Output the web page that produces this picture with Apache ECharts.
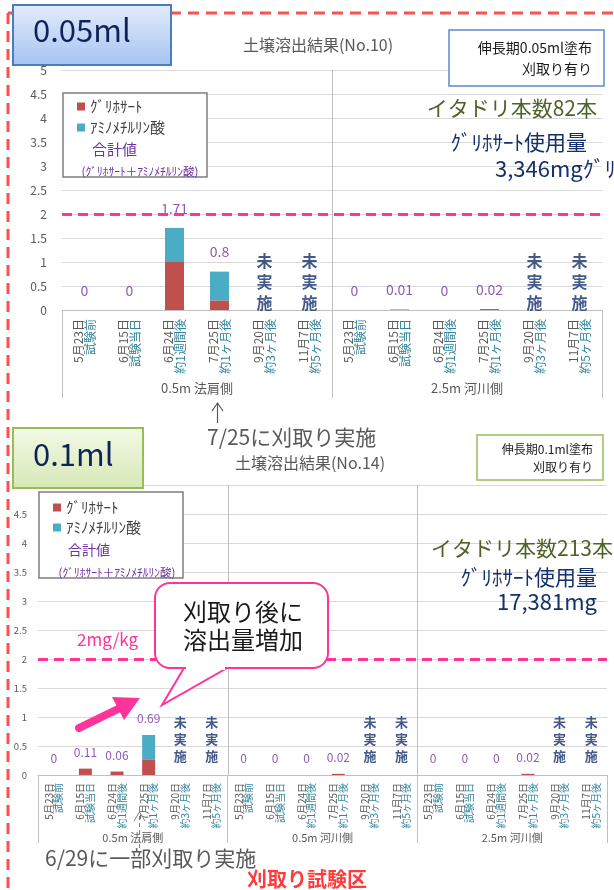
<!DOCTYPE html>
<html>
<head>
<meta charset="utf-8">
<title>土壌溶出結果</title>
<script src="https://cdn.jsdelivr.net/npm/echarts@6/dist/echarts.min.js"></script>
<style>
html, body { margin: 0; padding: 0; background: #fff; }
#chart { width: 614px; height: 890px; }
</style>
</head>
<body>
<div id="chart"></div>
<script>
// categories (same 6 sampling dates in every group)
const dates = ['5月23日', '6月15日', '6月24日', '7月25日', '9月20日', '11月7日'];
const notes = ['試験前', '試験当日', '約1週間後', '約1ヶ月後', '約3ヶ月後', '約5ヶ月後'];
const groups10 = ['0.5m 法肩側', '2.5m 河川側'];
const groups14 = ['0.5m 法肩側', '0.5m 河川側', '2.5m 河川側'];

// No.10 (0.05ml) mg/kg, null = 未実施
const glyphosate10 = [0, 0, 1.0, 0.2, null, null, 0, 0.01, 0, 0.02, null, null];
const ampa10 = [0, 0, 0.71, 0.6, null, null, 0, 0, 0, 0, null, null];

// No.14 (0.1ml)
const glyphosate14 = [0, 0.11, 0.06, 0.27, null, null, 0, 0, 0, 0.02, null, null, 0, 0, 0, 0.02, null, null];
const ampa14 = [0, 0, 0, 0.42, null, null, 0, 0, 0, 0, null, null, 0, 0, 0, 0, null, null];

const yMax = 5;
const yStep = 0.5;
const limitValue = 2; // 2mg/kg

const FONT = "'Noto Sans CJK JP', 'Noto Sans', sans-serif";
const RED = '#C0504D';
const TEAL = '#4BACC6';
const PINK = '#FF3399';
const PURPLE = '#7030A0';
const NAVY = '#13306B';
const GRAY = '#595959';

const grid10 = { left: 62, top: 70, width: 540, height: 240 };
const grid14 = { left: 38, top: 485, width: 569, height: 290 };

function cats(groups) {
    const out = [];
    groups.forEach(g => dates.forEach((d, i) => out.push(g + ' ' + d + ' ' + notes[i])));
    return out;
}
function totals(g, a) {
    return g.map((v, i) => [i, v == null ? '-' : Math.round((v + a[i]) * 100) / 100]);
}
function notDone(g) {
    return g.map((v, i) => [i, v == null ? 0 : '-']);
}

function catAxis(gridIndex, data, fontSize, lineHeight, margin) {
    return {
        type: 'category', gridIndex, data, position: 'bottom',
        axisLine: { lineStyle: { color: '#BFBFBF' } },
        axisTick: { show: false },
        axisLabel: {
            interval: 0, rotate: 90, margin, fontSize, lineHeight,
            formatter: (v, idx) => '{a|' + dates[idx % 6] + '}\n{b|' + notes[idx % 6] + '}',
            rich: {
                a: { color: GRAY, fontSize: fontSize, lineHeight: lineHeight, fontFamily: FONT },
                b: { color: '#31849B', fontSize: fontSize, lineHeight: lineHeight, fontFamily: FONT }
            }
        }
    };
}
function groupAxis(gridIndex, data, tickLen, margin, fontSize) {
    return {
        type: 'category', gridIndex, data, position: 'bottom',
        axisLine: { show: false },
        axisTick: { show: true, length: tickLen, lineStyle: { color: '#BFBFBF' } },
        axisLabel: { margin, fontSize, color: GRAY, fontFamily: FONT },
        splitLine: { show: false }
    };
}
function valAxis(gridIndex, fontSize, margin) {
    return {
        type: 'value', gridIndex, min: 0, max: yMax, interval: yStep,
        axisLine: { show: false }, axisTick: { show: false },
        axisLabel: { fontSize, color: GRAY, margin, fontFamily: FONT },
        splitLine: { lineStyle: { color: '#D9D9D9' } }
    };
}

function chartSeries(axisX, axisY, glyph, ampa, barWidth, valFont, valDist, ndFont, ndLine, ndDist) {
    return [
        {
            name: 'ｸﾞﾘﾎｻｰﾄ', type: 'bar', xAxisIndex: axisX, yAxisIndex: axisY, stack: 's' + axisX,
            data: glyph, barWidth, itemStyle: { color: RED },
            markLine: {
                silent: true, symbol: 'none', label: { show: false },
                lineStyle: { color: PINK, type: [10, 6], width: 3 },
                data: [{ yAxis: limitValue }]
            }
        },
        {
            name: 'ｱﾐﾉﾒﾁﾙﾘﾝ酸', type: 'bar', xAxisIndex: axisX, yAxisIndex: axisY, stack: 's' + axisX,
            data: ampa, barWidth, itemStyle: { color: TEAL }
        },
        {
            name: '合計値', type: 'scatter', xAxisIndex: axisX, yAxisIndex: axisY, silent: true,
            data: totals(glyph, ampa), symbolSize: 1, itemStyle: { color: 'rgba(0,0,0,0)' },
            label: {
                show: true, position: 'top', distance: valDist, color: PURPLE,
                fontSize: valFont, fontFamily: FONT, formatter: p => String(p.value[1])
            }
        },
        {
            name: '未実施', type: 'scatter', xAxisIndex: axisX, yAxisIndex: axisY, silent: true,
            data: notDone(glyph), symbolSize: 1, itemStyle: { color: 'rgba(0,0,0,0)' },
            label: {
                show: true, position: 'top', distance: ndDist, color: NAVY, fontWeight: 'bold',
                fontSize: ndFont, lineHeight: ndLine, fontFamily: FONT, formatter: '未\n実\n施'
            }
        }
    ];
}

function txt(x, y, text, size, color, align, extra) {
    return Object.assign({
        type: 'text', x, y, z: 50,
        style: Object.assign({
            text, fontSize: size, fontFamily: FONT, fill: color,
            align: align, textAlign: align, verticalAlign: 'middle', textVerticalAlign: 'middle'
        }, (extra && extra.style) || {})
    }, extra && extra.el || {});
}
function line(x1, y1, x2, y2, color, width, dash, z) {
    return {
        type: 'line', z: z || 50, silent: true,
        shape: { x1, y1, x2, y2 },
        style: { stroke: color, lineWidth: width, lineDash: dash || null }
    };
}
function sepLines(g, n) {
    const out = [];
    for (let k = 1; k < n; k++) {
        const x = Math.round(g.left + g.width * k / n) + 0.5;
        out.push(line(x, g.top, x, g.top + g.height, '#BFBFBF', 1, null, 1));
    }
    return out;
}

const graphics = [].concat(
    sepLines(grid10, groups10.length),
    sepLines(grid14, groups14.length),
    [
        // red dashed frame
        line(8, 13, 614, 13, '#FF5050', 3, [11, 7], 20),
        line(8, 13, 8, 890, '#FF5050', 3, [11, 7], 20),

        // ---------- top chart decorations ----------
        { type: 'rect', z: 30, shape: { x: 13, y: 5, width: 158, height: 60 },
          style: { fill: { type: 'linear', x: 0, y: 0, x2: 0, y2: 1,
                   colorStops: [{ offset: 0, color: '#E4ECFB' }, { offset: 1, color: '#A6C3F2' }] },
                   stroke: '#4A7EBB', lineWidth: 2 } },
        txt(33, 30, '0.05ml', 31, '#0F2456', 'left'),
        txt(318, 45, '土壌溶出結果(No.10)', 16, GRAY, 'center'),
        { type: 'rect', z: 30, shape: { x: 449, y: 30, width: 155, height: 56 },
          style: { fill: '#fff', stroke: '#5B8BD0', lineWidth: 1.5 } },
        txt(592, 58, '伸長期0.05ml塗布\n刈取り有り', 14, '#1A1A1A', 'right', { style: { lineHeight: 21 } }),
        txt(597, 108, 'イタドリ本数82本', 21, '#4F6228', 'right'),
        txt(587, 142, 'ｸﾞﾘﾎｻｰﾄ使用量', 21, NAVY, 'right'),
        txt(495, 169, '3,346mgｸﾞﾘ', 22, NAVY, 'left'),
        // legend frame + sum note
        { type: 'rect', z: 3, shape: { x: 63, y: 93, width: 144, height: 84 },
          style: { fill: '#fff', stroke: '#7F7F7F', lineWidth: 1.5 } },
        txt(92, 149, '合計値', 15, PURPLE, 'left'),
        txt(140, 172, '(ｸﾞﾘﾎｻｰﾄ＋ｱﾐﾉﾒﾁﾙﾘﾝ酸)', 11.5, PURPLE, 'center'),
        // arrow + note under the top chart
        line(217.5, 423, 217.5, 404, GRAY, 1.2),
        { type: 'polyline', z: 50, shape: { points: [[212, 411], [217.5, 403], [223, 411]] },
          style: { stroke: GRAY, lineWidth: 1.2, fill: null } },
        txt(207, 437, '7/25に刈取り実施', 21, GRAY, 'left'),

        // ---------- bottom chart decorations ----------
        { type: 'rect', z: 30, shape: { x: 13, y: 428, width: 130, height: 60 },
          style: { fill: { type: 'linear', x: 0, y: 0, x2: 0, y2: 1,
                   colorStops: [{ offset: 0, color: '#F2FAE6' }, { offset: 1, color: '#D6E8B5' }] },
                   stroke: '#9BBB59', lineWidth: 2 } },
        txt(33, 454, '0.1ml', 31, '#0F2456', 'left'),
        txt(310, 463, '土壌溶出結果(No.14)', 16, GRAY, 'center'),
        { type: 'rect', z: 30, shape: { x: 477, y: 435, width: 126, height: 45 },
          style: { fill: '#fff', stroke: '#9BBB59', lineWidth: 1.5 } },
        txt(593, 458, '伸長期0.1ml塗布\n刈取り有り', 12, '#1A1A1A', 'right', { style: { lineHeight: 18 } }),
        txt(613, 548, 'イタドリ本数213本', 21, '#4F6228', 'right'),
        txt(597, 577, 'ｸﾞﾘﾎｻｰﾄ使用量', 21, NAVY, 'right'),
        txt(597, 602, '17,381mg', 22, NAVY, 'right'),
        { type: 'rect', z: 3, shape: { x: 39, y: 492, width: 144, height: 86 },
          style: { fill: '#fff', stroke: '#7F7F7F', lineWidth: 1.5 } },
        txt(68, 550, '合計値', 14, PURPLE, 'left'),
        txt(117, 573, '(ｸﾞﾘﾎｻｰﾄ＋ｱﾐﾉﾒﾁﾙﾘﾝ酸)', 11.5, PURPLE, 'center'),
        txt(77, 640, '2mg/kg', 17, PINK, 'left'),
        // callout box with tail
        { type: 'rect', z: 60, shape: { x: 155, y: 583, width: 173, height: 85, r: 15 },
          style: { fill: '#fff', stroke: PINK, lineWidth: 2 } },
        { type: 'polygon', z: 61, shape: { points: [[184, 668], [162, 705], [227, 668]] },
          style: { fill: '#fff', stroke: PINK, lineWidth: 2 } },
        line(186, 668, 225, 668, '#fff', 4, null, 62),
        txt(243, 612, '刈取り後に', 24, '#1A1A1A', 'center', { el: { z: 63 } }),
        txt(243, 640, '溶出量増加', 24, '#1A1A1A', 'center', { el: { z: 63 } }),
        // pink arrow
        { type: 'line', z: 60, shape: { x1: 79, y1: 728, x2: 118, y2: 709 },
          style: { stroke: PINK, lineWidth: 8, lineCap: 'round' } },
        { type: 'polygon', z: 60, shape: { points: [[140, 698], [112, 697], [124, 720]] },
          style: { fill: PINK } },
        // dashed arrow + note below
        line(139.5, 848, 139.5, 813, '#7F7F7F', 1, [4, 3]),
        { type: 'polyline', z: 50, shape: { points: [[134, 821], [139.5, 812], [145, 821]] },
          style: { stroke: '#7F7F7F', lineWidth: 1, fill: null } },
        txt(45, 858, '6/29に一部刈取り実施', 21, GRAY, 'left'),
        txt(247, 879, '刈取り試験区', 20, '#FF3B3B', 'left', { style: { fontWeight: 'bold' } })
    ]
);

const chart = echarts.init(document.getElementById('chart'));
chart.setOption({
    animation: false,
    textStyle: { fontFamily: FONT },
    grid: [
        Object.assign({ containLabel: false, outerBoundsMode: 'none' }, grid10),
        Object.assign({ containLabel: false, outerBoundsMode: 'none' }, grid14)
    ],
    legend: [
        { data: ['ｸﾞﾘﾎｻｰﾄ', 'ｱﾐﾉﾒﾁﾙﾘﾝ酸'], orient: 'vertical', left: 77, top: 99, z: 5,
          icon: 'rect', itemWidth: 8, itemHeight: 8, itemGap: 6, selectedMode: false, padding: 0,
          textStyle: { fontSize: 15, lineHeight: 15, color: '#404040', fontFamily: FONT } },
        { data: ['ｸﾞﾘﾎｻｰﾄ', 'ｱﾐﾉﾒﾁﾙﾘﾝ酸'], orient: 'vertical', left: 53, top: 500, z: 5,
          icon: 'rect', itemWidth: 8, itemHeight: 8, itemGap: 5, selectedMode: false, padding: 0,
          textStyle: { fontSize: 15, lineHeight: 15, color: '#404040', fontFamily: FONT } }
    ],
    xAxis: [
        catAxis(0, cats(groups10), 12, 12, 9),
        groupAxis(0, groups10, 88, 72, 13),
        catAxis(1, cats(groups14), 10, 9.5, 8),
        groupAxis(1, groups14, 68, 57, 11)
    ],
    yAxis: [valAxis(0, 12, 15), valAxis(1, 9.5, 11)],
    series: [].concat(
        chartSeries(0, 0, glyphosate10, ampa10, 19, 14, 12, 16, 21, -4),
        chartSeries(2, 1, glyphosate14, ampa14, 13, 12, 10, 13, 17, 10)
    ),
    graphic: { elements: graphics }
});
</script>
</body>
</html>
